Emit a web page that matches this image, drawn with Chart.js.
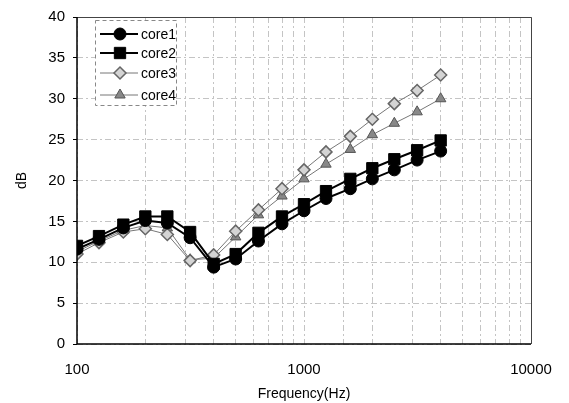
<!DOCTYPE html>
<html><head><meta charset="utf-8">
<script src="https://cdn.jsdelivr.net/npm/chart.js@4"></script>
<style>html,body{margin:0;padding:0;background:#fff}#w{width:569px;height:403px}</style>
</head><body><div id="w"><canvas id="c" width="569" height="403"></canvas></div>
<script>
const freqs = [100,125,160,200,250,315,400,500,630,800,1000,1250,1600,2000,2500,3150,4000];
const core1 = [11.6,12.8,14.2,15.1,14.8,13.0,9.4,10.4,12.6,14.7,16.3,17.8,19.0,20.2,21.3,22.5,23.6];
const core2 = [12.0,13.2,14.6,15.6,15.6,13.7,9.8,11.0,13.6,15.6,17.1,18.7,20.2,21.5,22.6,23.7,24.9];
const core3 = [11.0,12.4,13.7,14.1,13.4,10.2,10.9,13.8,16.4,19.0,21.3,23.5,25.4,27.5,29.4,31.0,32.9];
const core4 = [11.3,12.6,13.9,14.5,14.2,10.3,10.5,13.1,15.8,18.1,20.2,22.0,23.8,25.6,27.0,28.4,30.0];
const seriesNames = ['core1','core2','core3','core4'];
const yTicks = [0,5,10,15,20,25,30,35,40];
const xLabels = [100,1000,10000];

const FONT = '"Liberation Sans", Arial, sans-serif';
const pts = arr => arr.map((v,i)=>({x:freqs[i],y:v}));
const datasets = [
 {label:seriesNames[0],data:pts(core1),borderColor:'#000',backgroundColor:'#000',borderWidth:2,pointStyle:'circle',pointRadius:6,pointBorderWidth:1,pointBorderColor:'#000',pointBackgroundColor:'#000'},
 {label:seriesNames[1],data:pts(core2),borderColor:'#000',backgroundColor:'#000',borderWidth:2,pointStyle:'rect',pointRadius:8,pointBorderWidth:1,pointBorderColor:'#000',pointBackgroundColor:'#000'},
 {label:seriesNames[2],data:pts(core3),borderColor:'#777',backgroundColor:'#ccc',borderWidth:1,pointStyle:'rectRot',pointRadius:6,pointBorderWidth:1.5,pointBorderColor:'#666',pointBackgroundColor:'#d4d4d4'},
 {label:seriesNames[3],data:pts(core4),borderColor:'#777',backgroundColor:'#777',borderWidth:1,pointStyle:'triangle',pointRadius:6,pointBorderWidth:1,pointBorderColor:'#555',pointBackgroundColor:'#888'}
];

const legendPlugin = {
 id:'inLegend',
 afterDraw(chart){
  const ctx = chart.ctx;
  ctx.save();
  ctx.fillStyle='#fff';
  ctx.fillRect(95,20,81,85);
  ctx.setLineDash([4,3]);
  ctx.strokeStyle='#888';ctx.lineWidth=1;
  ctx.strokeRect(95.5,20.5,81,85);
  ctx.setLineDash([]);
  const rows=[34,53,73,95];
  chart.data.datasets.forEach((ds,i)=>{
   const y=rows[i];
   ctx.strokeStyle=ds.borderColor;ctx.lineWidth=ds.borderWidth;
   ctx.beginPath();ctx.moveTo(100,y);ctx.lineTo(138,y);ctx.stroke();
   ctx.fillStyle=ds.pointBackgroundColor;ctx.strokeStyle=ds.pointBorderColor;ctx.lineWidth=ds.pointBorderWidth;
   Chart.helpers.drawPoint(ctx,{pointStyle:ds.pointStyle,radius:ds.pointRadius,rotation:0,borderWidth:ds.pointBorderWidth},120,y);
   ctx.fillStyle='#000';ctx.font='14px '+FONT;
   ctx.textBaseline='middle';ctx.textAlign='left';
   ctx.fillText(ds.label,141,y+1);
  });
  ctx.restore();
 }
};
const borderPlugin = {
 id:'frame',
 afterDatasetsDraw(chart){
  const a=chart.chartArea,ctx=chart.ctx;
  ctx.save();
  ctx.strokeStyle='#444';ctx.lineWidth=1;
  ctx.beginPath();ctx.moveTo(a.left,a.top+0.5);ctx.lineTo(a.right+0.5,a.top+0.5);ctx.lineTo(a.right+0.5,a.bottom);ctx.stroke();
  ctx.strokeStyle='#000';ctx.lineWidth=1.5;
  ctx.beginPath();ctx.moveTo(a.left,a.top);ctx.lineTo(a.left,a.bottom);ctx.lineTo(a.right,a.bottom);ctx.stroke();
  ctx.restore();
 }
};

new Chart(document.getElementById('c'),{
 type:'line',
 data:{datasets},
 options:{
  responsive:false,animation:false,
  layout:{padding:{top:15,right:38,left:14,bottom:0}},
  plugins:{legend:{display:false},tooltip:{enabled:false}},
  elements:{line:{tension:0}},
  scales:{
   x:{type:'logarithmic',min:100,max:10000,
    border:{display:false,dash:[6,3,2,3]},
    grid:{color:'#c4c4c4',lineWidth:1,drawTicks:false},
    ticks:{color:'#000',font:{size:15,family:FONT},padding:17,maxRotation:0,autoSkip:false,
     callback:(v)=>xLabels.includes(v)?String(v):''},
    title:{display:true,text:'Frequency(Hz)',color:'#000',font:{size:14,family:FONT},padding:{top:1,bottom:0}},
    afterFit(s){s.height=59;}
   },
   y:{min:0,max:40,
    border:{display:false,dash:[6,3,2,3]},
    grid:{color:'#c4c4c4',drawTicks:true,tickLength:4,tickColor:'#000'},
    afterBuildTicks(s){s.ticks=yTicks.map(v=>({value:v}));},
    ticks:{color:'#000',font:{size:15,family:FONT},padding:8},
    title:{display:true,text:'dB',color:'#000',font:{size:14,family:FONT},padding:0},
    afterFit(s){s.width=63;}
   }
  }
 },
 plugins:[borderPlugin,legendPlugin]
});
</script></body></html>
